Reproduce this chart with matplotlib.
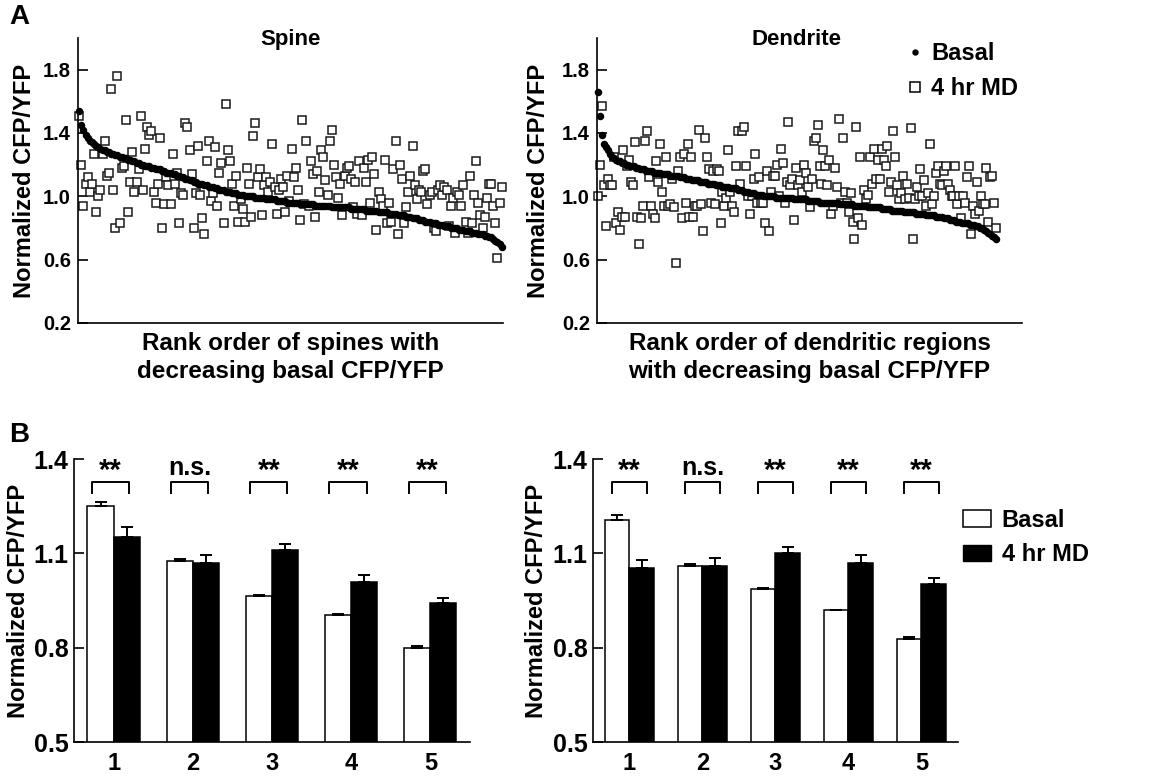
import numpy as np
import matplotlib.pyplot as plt
from matplotlib.patches import Patch
from matplotlib.lines import Line2D

plt.rcParams['font.family'] = ['Liberation Sans', 'DejaVu Sans']
plt.rcParams['font.weight'] = 'bold'
plt.rcParams['axes.labelweight'] = 'bold'
plt.rcParams['axes.linewidth'] = 1.2

# --- panel A: per-spine / per-dendrite values, in basal rank order ---
spine_basal = [
    1.54, 1.45, 1.42, 1.39, 1.37, 1.35, 1.34, 1.33, 1.32, 1.31, 1.30, 1.29, 1.29, 1.28, 1.28, 1.27, 1.27, 1.26, 1.26, 1.25,
    1.25, 1.24, 1.24, 1.23, 1.23, 1.22, 1.22, 1.21, 1.21, 1.20, 1.20, 1.19, 1.19, 1.19, 1.18, 1.18, 1.17, 1.17, 1.17, 1.16,
    1.16, 1.15, 1.15, 1.15, 1.14, 1.14, 1.13, 1.13, 1.12, 1.12, 1.11, 1.11, 1.10, 1.10, 1.09, 1.09, 1.08, 1.08, 1.08, 1.07,
    1.07, 1.06, 1.06, 1.06, 1.05, 1.05, 1.04, 1.04, 1.04, 1.03, 1.03, 1.03, 1.02, 1.02, 1.02, 1.01, 1.01, 1.01, 1.00, 1.00,
    1.00, 1.00, 1.00, 0.99, 0.99, 0.99, 0.99, 0.99, 0.98, 0.98, 0.98, 0.98, 0.98, 0.97, 0.97, 0.97, 0.97, 0.97, 0.96, 0.96,
    0.96, 0.96, 0.96, 0.96, 0.95, 0.95, 0.95, 0.95, 0.95, 0.95, 0.95, 0.94, 0.94, 0.94, 0.94, 0.94, 0.94, 0.94, 0.94, 0.93,
    0.93, 0.93, 0.93, 0.93, 0.93, 0.93, 0.93, 0.93, 0.92, 0.92, 0.92, 0.92, 0.92, 0.92, 0.92, 0.91, 0.91, 0.91, 0.91, 0.91,
    0.91, 0.90, 0.90, 0.90, 0.90, 0.90, 0.89, 0.89, 0.89, 0.89, 0.88, 0.88, 0.88, 0.88, 0.87, 0.87, 0.87, 0.86, 0.86, 0.86,
    0.85, 0.85, 0.85, 0.84, 0.84, 0.84, 0.83, 0.83, 0.83, 0.82, 0.82, 0.82, 0.81, 0.81, 0.81, 0.80, 0.80, 0.80, 0.80, 0.79,
    0.79, 0.79, 0.78, 0.78, 0.78, 0.77, 0.77, 0.77, 0.76, 0.76, 0.76, 0.75, 0.75, 0.74, 0.74, 0.73, 0.72, 0.71, 0.70, 0.68,
]
spine_md = [
    1.51, 1.20, 0.94, 1.08, 1.12, 1.03, 1.08, 1.27, 0.90, 1.00, 1.04, 1.27, 1.35, 1.13, 1.15, 1.68, 1.04, 0.80, 1.76, 0.83,
    1.18, 1.19, 1.48, 0.90, 1.09, 1.28, 1.03, 1.09, 1.17, 1.51, 1.04, 1.30, 1.44, 1.39, 1.41, 1.03, 0.96, 1.08, 1.37, 0.80,
    0.95, 1.12, 1.07, 0.95, 1.27, 1.08, 1.15, 0.83, 1.02, 1.01, 1.46, 1.44, 1.29, 1.14, 0.80, 1.02, 1.32, 1.01, 0.86, 0.76,
    1.22, 1.35, 0.97, 1.02, 1.31, 0.94, 1.15, 1.21, 0.83, 1.58, 1.29, 1.22, 1.08, 0.94, 1.13, 0.84, 0.98, 0.92, 0.84, 1.18,
    1.08, 0.87, 1.38, 1.46, 1.12, 1.17, 0.88, 1.07, 1.12, 1.03, 1.09, 1.33, 1.06, 0.89, 1.04, 1.11, 1.06, 0.90, 1.13, 0.97,
    1.30, 1.12, 1.18, 1.04, 0.85, 1.48, 0.95, 1.35, 0.94, 1.22, 1.14, 0.87, 1.16, 1.03, 1.29, 1.25, 1.10, 1.01, 1.35, 1.42,
    1.20, 1.12, 0.99, 1.08, 0.88, 1.13, 1.18, 1.19, 1.11, 0.93, 1.09, 0.89, 1.22, 0.88, 1.18, 1.09, 1.23, 0.96, 1.25, 1.14,
    0.79, 1.03, 0.98, 0.94, 1.23, 0.83, 0.96, 0.84, 1.17, 1.35, 0.76, 1.20, 1.11, 0.83, 0.93, 1.03, 1.13, 1.32, 1.07, 0.98,
    1.04, 1.03, 1.16, 1.17, 0.95, 1.01, 1.03, 0.80, 0.78, 1.04, 1.07, 1.01, 1.06, 1.04, 0.81, 0.94, 0.99, 0.77, 1.03, 1.01,
    0.94, 1.07, 0.84, 0.77, 1.13, 0.83, 1.01, 1.22, 0.96, 0.88, 0.80, 0.87, 0.99, 1.08, 1.08, 0.94, 0.83, 0.61, 0.96, 1.06,
]
dend_basal = [
    1.66, 1.51, 1.39, 1.33, 1.31, 1.29, 1.27, 1.25, 1.24, 1.23, 1.22, 1.22, 1.21, 1.21, 1.20, 1.20, 1.19, 1.19, 1.19, 1.18,
    1.18, 1.17, 1.17, 1.17, 1.16, 1.16, 1.16, 1.16, 1.15, 1.15, 1.15, 1.15, 1.14, 1.14, 1.14, 1.14, 1.13, 1.13, 1.13, 1.13,
    1.13, 1.12, 1.12, 1.12, 1.11, 1.11, 1.11, 1.10, 1.10, 1.10, 1.10, 1.09, 1.09, 1.09, 1.09, 1.08, 1.08, 1.08, 1.08, 1.07,
    1.07, 1.07, 1.06, 1.06, 1.06, 1.06, 1.05, 1.05, 1.05, 1.05, 1.04, 1.04, 1.04, 1.03, 1.03, 1.03, 1.02, 1.02, 1.02, 1.01,
    1.01, 1.01, 1.01, 1.00, 1.00, 1.00, 1.00, 1.00, 1.00, 0.99, 0.99, 0.99, 0.99, 0.99, 0.99, 0.99, 0.99, 0.99, 0.98, 0.98,
    0.98, 0.98, 0.98, 0.98, 0.98, 0.97, 0.97, 0.97, 0.97, 0.97, 0.97, 0.96, 0.96, 0.96, 0.96, 0.96, 0.96, 0.96, 0.96, 0.96,
    0.96, 0.95, 0.95, 0.95, 0.95, 0.95, 0.95, 0.95, 0.94, 0.94, 0.94, 0.94, 0.94, 0.94, 0.94, 0.93, 0.93, 0.93, 0.93, 0.93,
    0.93, 0.93, 0.92, 0.92, 0.92, 0.92, 0.92, 0.91, 0.91, 0.91, 0.91, 0.91, 0.91, 0.90, 0.90, 0.90, 0.90, 0.90, 0.90, 0.89,
    0.89, 0.89, 0.89, 0.89, 0.88, 0.88, 0.88, 0.88, 0.88, 0.87, 0.87, 0.87, 0.87, 0.86, 0.86, 0.86, 0.85, 0.85, 0.85, 0.84,
    0.84, 0.84, 0.83, 0.83, 0.83, 0.83, 0.82, 0.82, 0.82, 0.81, 0.81, 0.80, 0.80, 0.79, 0.78, 0.77, 0.76, 0.75, 0.74, 0.73,
]
dend_md = [
    1.00, 1.20, 1.57, 1.07, 0.81, 1.11, 1.07, 1.07, 1.25, 0.83, 0.90, 0.79, 0.87, 1.29, 0.87, 1.19, 1.23, 1.09, 1.07, 1.34,
    0.87, 0.70, 0.86, 0.94, 1.35, 1.41, 1.12, 0.94, 0.89, 0.86, 1.22, 1.09, 1.33, 1.03, 0.94, 1.25, 0.94, 0.95, 1.11, 0.93,
    0.58, 1.16, 1.25, 0.86, 1.27, 0.96, 1.33, 0.87, 1.25, 0.87, 0.94, 0.94, 1.42, 0.95, 0.78, 1.37, 1.25, 1.17, 0.96, 1.16,
    0.95, 1.17, 1.16, 0.83, 1.03, 0.94, 0.99, 1.29, 1.03, 0.94, 0.90, 1.19, 1.41, 1.08,
    1.41, 1.44, 1.19, 1.00, 0.89, 1.00, 1.11, 1.27, 0.96, 1.12, 0.96, 0.96, 0.83, 1.16, 0.78, 1.03, 1.13, 1.13, 1.20, 1.00,
    1.30, 1.21, 0.96, 1.09, 1.47, 1.07, 1.11, 0.85, 1.18, 1.07, 1.10, 1.03, 1.20, 1.15, 1.06, 0.93, 1.11, 1.35, 1.37, 1.45,
    1.19, 1.08, 1.29, 1.19, 1.07, 1.23, 0.89, 0.94, 1.18, 1.06, 1.49, 0.96, 1.37, 1.03, 0.96, 0.90, 1.02, 0.84, 0.73, 1.44,
    0.86, 1.25, 0.82, 1.04, 0.98, 1.01, 1.25, 1.08, 1.30, 1.11, 1.23,
    1.11, 1.30, 1.23, 1.19, 1.32, 1.03, 1.09, 1.41, 1.25, 1.07, 0.98, 1.02, 1.13, 0.98, 1.08, 0.99, 1.43, 0.73, 0.98, 1.06,
    1.00, 1.17, 1.00, 1.10, 0.94, 1.02, 1.33, 0.95, 1.00, 1.15, 1.19, 1.08, 1.07, 1.16, 1.19, 1.08, 1.04, 1.00, 1.00, 1.19,
    0.95, 1.00, 0.86, 1.00, 0.96, 1.12, 1.19, 0.76, 0.94, 0.89, 1.09, 0.91, 1.00, 0.95, 0.95, 1.18, 0.84, 1.12, 1.13, 0.96,
    0.80,
]

# --- panel B: binned means (quintiles of basal rank) ---
groups = [1, 2, 3, 4, 5]
spine_basal_mean = [1.252, 1.077, 0.964, 0.904, 0.799]
spine_basal_err = [0.011, 0.004, 0.003, 0.002, 0.006]
spine_md_mean = [1.153, 1.069, 1.110, 1.010, 0.943]
spine_md_err = [0.030, 0.027, 0.021, 0.020, 0.015]
dend_basal_mean = [1.207, 1.061, 0.987, 0.919, 0.828]
dend_basal_err = [0.015, 0.004, 0.002, 0.002, 0.006]
dend_md_mean = [1.052, 1.061, 1.101, 1.069, 1.004]
dend_md_err = [0.028, 0.024, 0.020, 0.027, 0.018]
sig_labels = ['**', 'n.s.', '**', '**', '**']

fig = plt.figure(figsize=(11.67, 7.77), dpi=100)


def scatter_panel(rect, basal, md, span, title, title_x, xlabel, ylab_x):
    ax = fig.add_axes(rect)
    xb = np.linspace(0, 1, len(basal))
    xm = np.linspace(0, 1, len(md))
    ax.plot(xm, md, 's', ms=5.3, mfc='white', mec='#1a1a1a', mew=1.1,
            clip_on=False, zorder=2)
    ax.plot(xb, basal, 'o', ms=5.4, color='black', mec='none',
            clip_on=False, zorder=3)
    ax.set_xlim(-0.003, span)
    ax.set_ylim(0.2, 2.0)
    ax.set_yticks([0.2, 0.6, 1.0, 1.4, 1.8])
    ax.set_yticklabels(['0.2', '0.6', '1.0', '1.4', '1.8'])
    ax.set_xticks([])
    ax.tick_params(axis='y', direction='in', length=7, width=1.2,
                   labelsize=14.5, pad=5)
    for s in ['top', 'right']:
        ax.spines[s].set_visible(False)
    ax.set_ylabel('Normalized CFP/YFP', fontsize=17)
    ax.yaxis.set_label_coords(ylab_x, 0.5)
    ax.text(title_x, 0.995, title, transform=ax.transAxes, ha='center',
            va='center', fontsize=16)
    ax.text(0.5, -0.032, xlabel, transform=ax.transAxes, ha='center',
            va='top', fontsize=17.5, linespacing=1.25)
    return ax


def bar_panel(rect, bm, be, mm, me, shift, ylab_x):
    ax = fig.add_axes(rect)
    x = np.array(groups)
    w = 0.33
    ekw = dict(ecolor='black', elinewidth=1.4, capsize=4.5, capthick=1.4)
    ax.bar(x - w / 2, bm, w, color='white', edgecolor='black', linewidth=1.1,
           yerr=[np.zeros(len(bm)), be], error_kw=ekw, zorder=2)
    ax.bar(x + w / 2, mm, w, color='black', edgecolor='black', linewidth=1.1,
           yerr=[np.zeros(len(mm)), me], error_kw=ekw, zorder=2)
    for xi, lab in zip(x, sig_labels):
        c = xi + shift
        ax.plot([c - 0.235, c - 0.235, c + 0.235, c + 0.235],
                [1.292, 1.327, 1.327, 1.292], color='black', lw=1.4)
        if lab == '**':
            ax.text(c, 1.318, lab, ha='center', va='bottom', fontsize=21)
        else:
            ax.text(c, 1.333, lab, ha='center', va='bottom', fontsize=18)
    ax.set_xlim(0.5, 5.5)
    ax.set_ylim(0.5, 1.4)
    ax.set_xticks(groups)
    ax.set_xticklabels([str(g) for g in groups])
    ax.set_yticks([0.5, 0.8, 1.1, 1.4])
    ax.set_yticklabels(['0.5', '0.8', '1.1', '1.4'])
    ax.tick_params(axis='y', direction='in', length=7, width=1.2,
                   labelsize=18, pad=4)
    ax.tick_params(axis='x', length=0, labelsize=17, pad=7)
    for s in ['top', 'right']:
        ax.spines[s].set_visible(False)
    ax.set_ylabel('Normalized CFP/YFP', fontsize=17)
    ax.yaxis.set_label_coords(ylab_x, 0.5)
    return ax


ax1 = scatter_panel([0.0668, 0.5843, 0.3642, 0.3668], spine_basal, spine_md,
                    1.003, 'Spine', 0.5,
                    'Rank order of spines with\ndecreasing basal CFP/YFP', -0.099)
ax2 = scatter_panel([0.5116, 0.5843, 0.3642, 0.3668], dend_basal, dend_md,
                    1.065, 'Dendrite', 0.47,
                    'Rank order of dendritic regions\nwith decreasing basal CFP/YFP',
                    -0.11)
h = [Line2D([], [], ls='none', marker='o', ms=4.6, color='black', mec='none'),
     Line2D([], [], ls='none', marker='s', ms=7, mfc='white', mec='black', mew=1.1)]
ax2.legend(h, ['Basal', '4 hr MD'], loc='upper left', bbox_to_anchor=(0.67, 1.06),
           frameon=False, fontsize=17, handlelength=1.0, handletextpad=0.2,
           labelspacing=0.5)

ax3 = bar_panel([0.0634, 0.045, 0.3393, 0.3642], spine_basal_mean, spine_basal_err,
                spine_md_mean, spine_md_err, -0.04, -0.111)
ax4 = bar_panel([0.5081, 0.045, 0.3128, 0.3642], dend_basal_mean, dend_basal_err,
                dend_md_mean, dend_md_err, 0.0, -0.123)
hb = [Patch(facecolor='white', edgecolor='black', linewidth=1.1),
      Patch(facecolor='black', edgecolor='black')]
ax4.legend(hb, ['Basal', '4 hr MD'], loc='upper left', bbox_to_anchor=(0.955, 0.90),
           frameon=False, fontsize=17, handlelength=1.2, handleheight=0.7,
           handletextpad=0.45, labelspacing=0.5)

fig.text(0.008, 0.995, 'A', fontsize=20, va='top', ha='left')
fig.text(0.008, 0.457, 'B', fontsize=20, va='top', ha='left')

fig.savefig('out.png', dpi=100)
